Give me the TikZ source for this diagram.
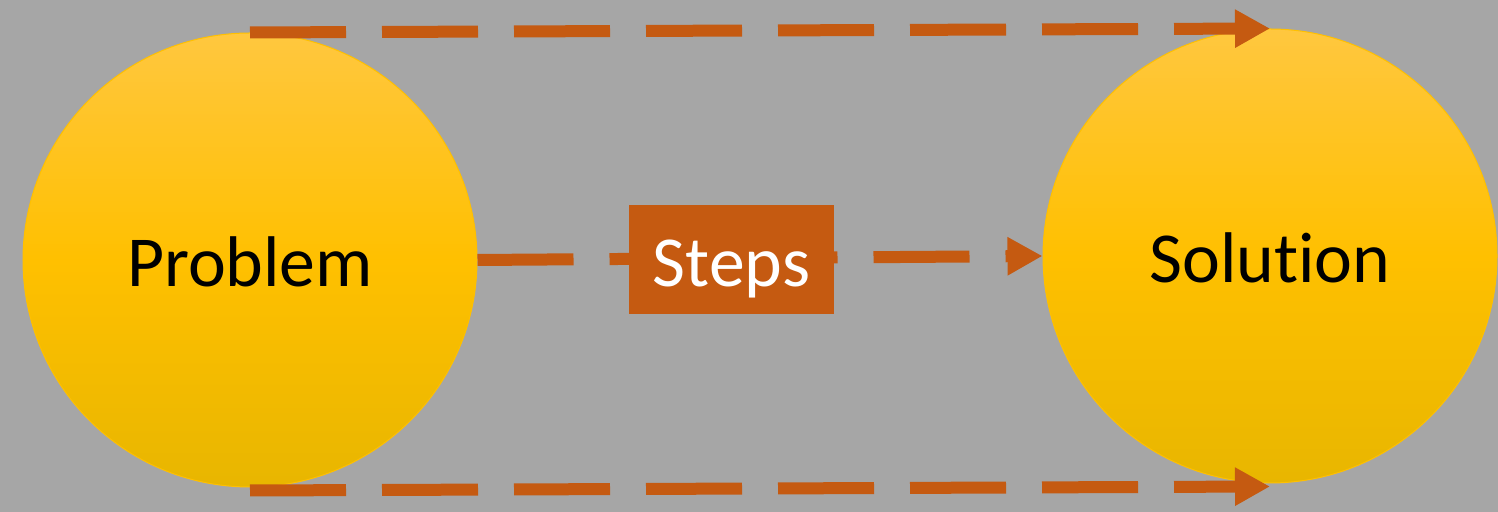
\documentclass[tikz,border=0pt]{standalone}
\usepackage{fontspec}
\setmainfont[Ligatures={NoCommon,NoRequired,NoContextual},RawFeature={-calt}]{Carlito}
\usetikzlibrary{arrows.meta,positioning}
\definecolor{PSBack}{HTML}{A6A6A6}
\definecolor{PSTop}{HTML}{FFC73F}
\definecolor{PSMid}{HTML}{FFC000}
\definecolor{PSBot}{HTML}{E8B600}
\definecolor{PSRust}{HTML}{C55A11}
\tikzset{
  ball/.style={circle,minimum size=454bp,inner sep=0pt,draw=PSMid,line width=1bp,
               top color=PSTop,bottom color=PSBot,middle color=PSMid,
               text=black,font=\fontsize{72}{86}\selectfont,
               text height=54bp,text depth=0pt},
  stepbox/.style={fill=PSRust,minimum width=205bp,minimum height=109bp,inner sep=0pt,
                  text=white,font=\fontsize{72}{86}\selectfont,
                  text height=55bp,text depth=0pt},
  route/.style={-{Triangle[length=35bp,width=36bp]},PSRust,line width=12bp,
                dash pattern=on 96bp off 36bp},
}
\begin{document}
\begin{tikzpicture}[x=1bp,y=1bp]
    \fill[PSBack] (0,0) rectangle (1498,512);
    \useasboundingbox (0,0) rectangle (1498,512);

    \node[ball] (problem) at (250,252) {Problem};
    \node[ball] (solution) at (1270,256) {Solut\kern0pt ion};

    \draw[route] (problem.north) -- (solution.north);
    \draw[route] ([yshift=-3bp]problem.south) -- ([yshift=-3bp]solution.south);
    \draw[route] (problem.east) -- (solution.west);

    \node[stepbox] (steps) at (731.5,252.5) {Steps};
  \end{tikzpicture}
\end{document}
